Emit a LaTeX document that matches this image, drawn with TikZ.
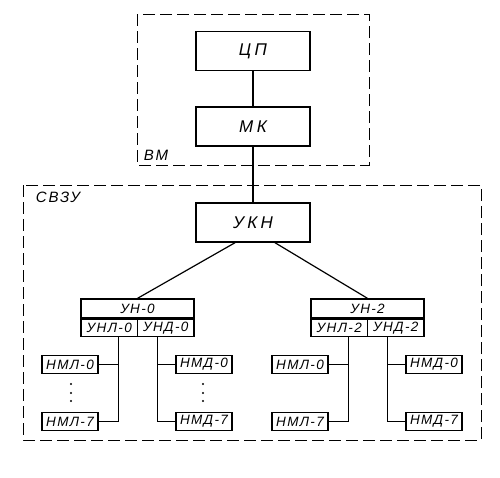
\documentclass[tikz,border=0pt]{standalone}
\usepackage{fontspec}
\setmainfont{Liberation Sans}
\usetikzlibrary{calc}
\begin{document}
\begin{tikzpicture}[x=1pt,y=-1pt,
  lab/.style={font=\fontsize{13.5}{13.5}\selectfont\itshape\addfontfeature{LetterSpace=10}},
  big/.style={draw,line width=1.4pt,minimum width=114pt,minimum height=39pt,inner sep=0pt,font=\fontsize{17}{17}\selectfont\itshape\addfontfeature{LetterSpace=20}},
  hdr/.style={draw,line width=1.3pt,minimum width=113pt,minimum height=19pt,inner sep=0pt,lab},
  half/.style={draw,line width=1.3pt,minimum width=56.5pt,minimum height=17pt,inner sep=0pt,lab},
  dev/.style={draw,line width=1.4pt,minimum width=56pt,minimum height=18pt,inner sep=0pt,lab},
  frame/.style={line width=0.9pt,dash pattern=on 12pt off 5pt},
  conn/.style={line width=1.2pt},
  tag/.style={font=\fontsize{15}{15}\selectfont\itshape\addfontfeature{LetterSpace=12}},
  dot/.style={circle,fill,inner sep=0pt,minimum size=2.4pt}]
\useasboundingbox (0,0) rectangle (500,477);
% frames
\draw[frame] (137,14) rectangle (369,165);
\draw[frame] (23,185) rectangle (481,440);
\node[tag] (vm) at (156,155) {ВМ};
\node[tag] (svzu) at (58,197) {СВЗУ};
% main chain
\node[big] (cp) at (253,51) {ЦП};
\node[big] (mk) at (253,126.5) {МК};
\node[big] (ukn) at (253,222.5) {УКН};
\draw[conn] (cp) -- (mk);
\draw[conn] (mk) -- (ukn);
% group 0
\node[hdr] (un0) at (137.5,308.5) {УН-0};
\node[half,anchor=north west] (unl0) at (un0.south west) {УНЛ-0};
\node[half,anchor=north east] (und0) at (un0.south east) {УНД-0};
\node[dev] (nml00) at (70,364.5) {НМЛ-0};
\node[dev] (nml07) at (70,421.5) {НМЛ-7};
\node[dev] (nmd00) at (204,364.5) {НМД-0};
\node[dev] (nmd07) at (204,421.5) {НМД-7};
\coordinate (bl0) at ($(unl0.south)+(9,0)$);
\coordinate (bd0) at ($(und0.south)+(-8.5,0)$);
\draw[conn] (bl0) |- (nml07.east);
\draw[conn] (nml00.east) -- (nml00.east -| bl0);
\draw[conn] (bd0) |- (nmd07.west);
\draw[conn] (nmd00.west) -- (nmd00.west -| bd0);
\node[dot] (d1) at (71,384) {};
\node[dot] (d2) at (71,393) {};
\node[dot] (d3) at (71,401) {};
\node[dot] (d4) at (203,384) {};
\node[dot] (d5) at (203,393) {};
\node[dot] (d6) at (203,401) {};
% group 2
\node[hdr] (un2) at (367.5,308.5) {УН-2};
\node[half,anchor=north west] (unl2) at (un2.south west) {УНЛ-2};
\node[half,anchor=north east] (und2) at (un2.south east) {УНД-2};
\node[dev] (nml20) at (300,364.5) {НМЛ-0};
\node[dev] (nml27) at (300,421.5) {НМЛ-7};
\node[dev] (nmd20) at (434,364.5) {НМД-0};
\node[dev] (nmd27) at (434,421.5) {НМД-7};
\coordinate (bl2) at ($(unl2.south)+(9,0)$);
\coordinate (bd2) at ($(und2.south)+(-8.5,0)$);
\draw[conn] (bl2) |- (nml27.east);
\draw[conn] (nml20.east) -- (nml20.east -| bl2);
\draw[conn] (bd2) |- (nmd27.west);
\draw[conn] (nmd20.west) -- (nmd20.west -| bd2);
% links from УКН
\draw[conn] ($(ukn.south)+(-18,0)$) -- (un0.north);
\draw[conn] ($(ukn.south)+(22,0)$) -- (un2.north);
\end{tikzpicture}
\end{document}
